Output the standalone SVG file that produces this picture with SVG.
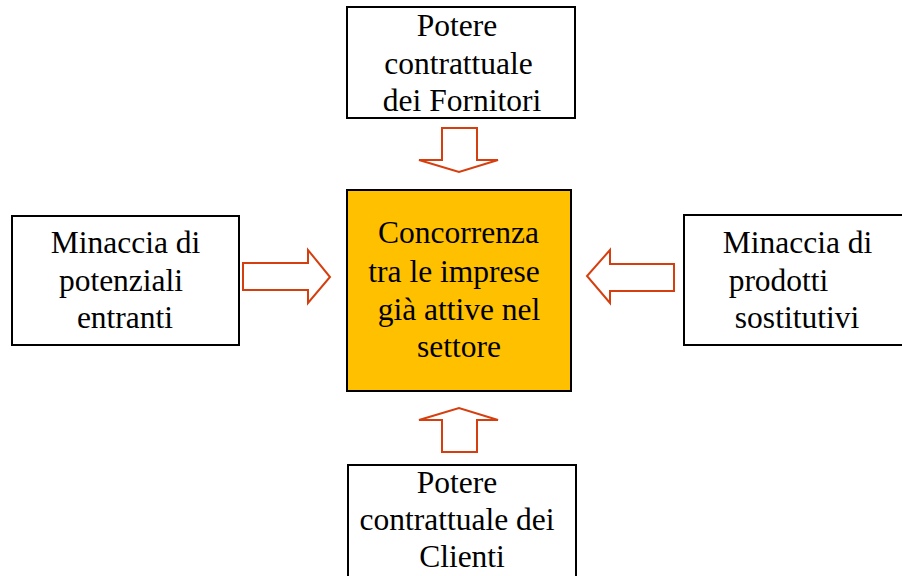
<svg xmlns="http://www.w3.org/2000/svg" width="902" height="576" viewBox="0 0 902 576">
<style>
.box{fill:#ffffff;stroke:#000000;stroke-width:2}
.core{fill:#ffc000;stroke:#000000;stroke-width:2}
.t{font-family:"Liberation Serif","Times New Roman",serif;font-size:31.5px;fill:#000000;text-anchor:middle}
.arr{fill:#ffffff;stroke:#d53f0f;stroke-width:2;stroke-linejoin:miter}
</style>
<rect width="902" height="576" fill="#ffffff"/>
<g id="fornitori">
<rect class="box" x="347" y="7" width="228" height="111"/>
<text class="t" x="457" y="36">Potere</text>
<text class="t" x="458.5" y="74">contrattuale</text>
<text class="t" x="462" y="111">dei Fornitori</text>
</g>
<g id="entranti">
<rect class="box" x="12" y="216" width="227" height="129"/>
<text class="t" x="125.5" y="253">Minaccia di</text>
<text class="t" x="121" y="291">potenziali</text>
<text class="t" x="125" y="328">entranti</text>
</g>
<g id="concorrenza">
<rect class="core" x="347" y="190" width="224" height="201"/>
<text class="t" x="458.5" y="243">Concorrenza</text>
<text class="t" x="454" y="282">tra le imprese</text>
<text class="t" x="459" y="320">già attive nel</text>
<text class="t" x="459" y="357">settore</text>
</g>
<g id="sostitutivi">
<rect class="box" x="684" y="215" width="230" height="130"/>
<text class="t" x="797.5" y="253">Minaccia di</text>
<text class="t" x="778.5" y="291">prodotti</text>
<text class="t" x="797" y="328">sostitutivi</text>
</g>
<g id="clienti">
<rect class="box" x="348" y="465" width="228" height="120"/>
<text class="t" x="457" y="493">Potere</text>
<text class="t" x="457" y="530">contrattuale dei</text>
<text class="t" x="462" y="567">Clienti</text>
</g>
<g id="connectors">
<polygon class="arr" points="442,128 477,128 477,160 498,160 459,172 419,160 442,160"/>
<polygon class="arr" points="243,263 308,263 308,250 330,277 308,303 308,290 243,290"/>
<polygon class="arr" points="674,264 610,264 610,250 587,276 610,303 610,291 674,291"/>
<polygon class="arr" points="442,452 477,452 477,420 498,420 459,408 419,420 442,420"/>
</g>
</svg>
